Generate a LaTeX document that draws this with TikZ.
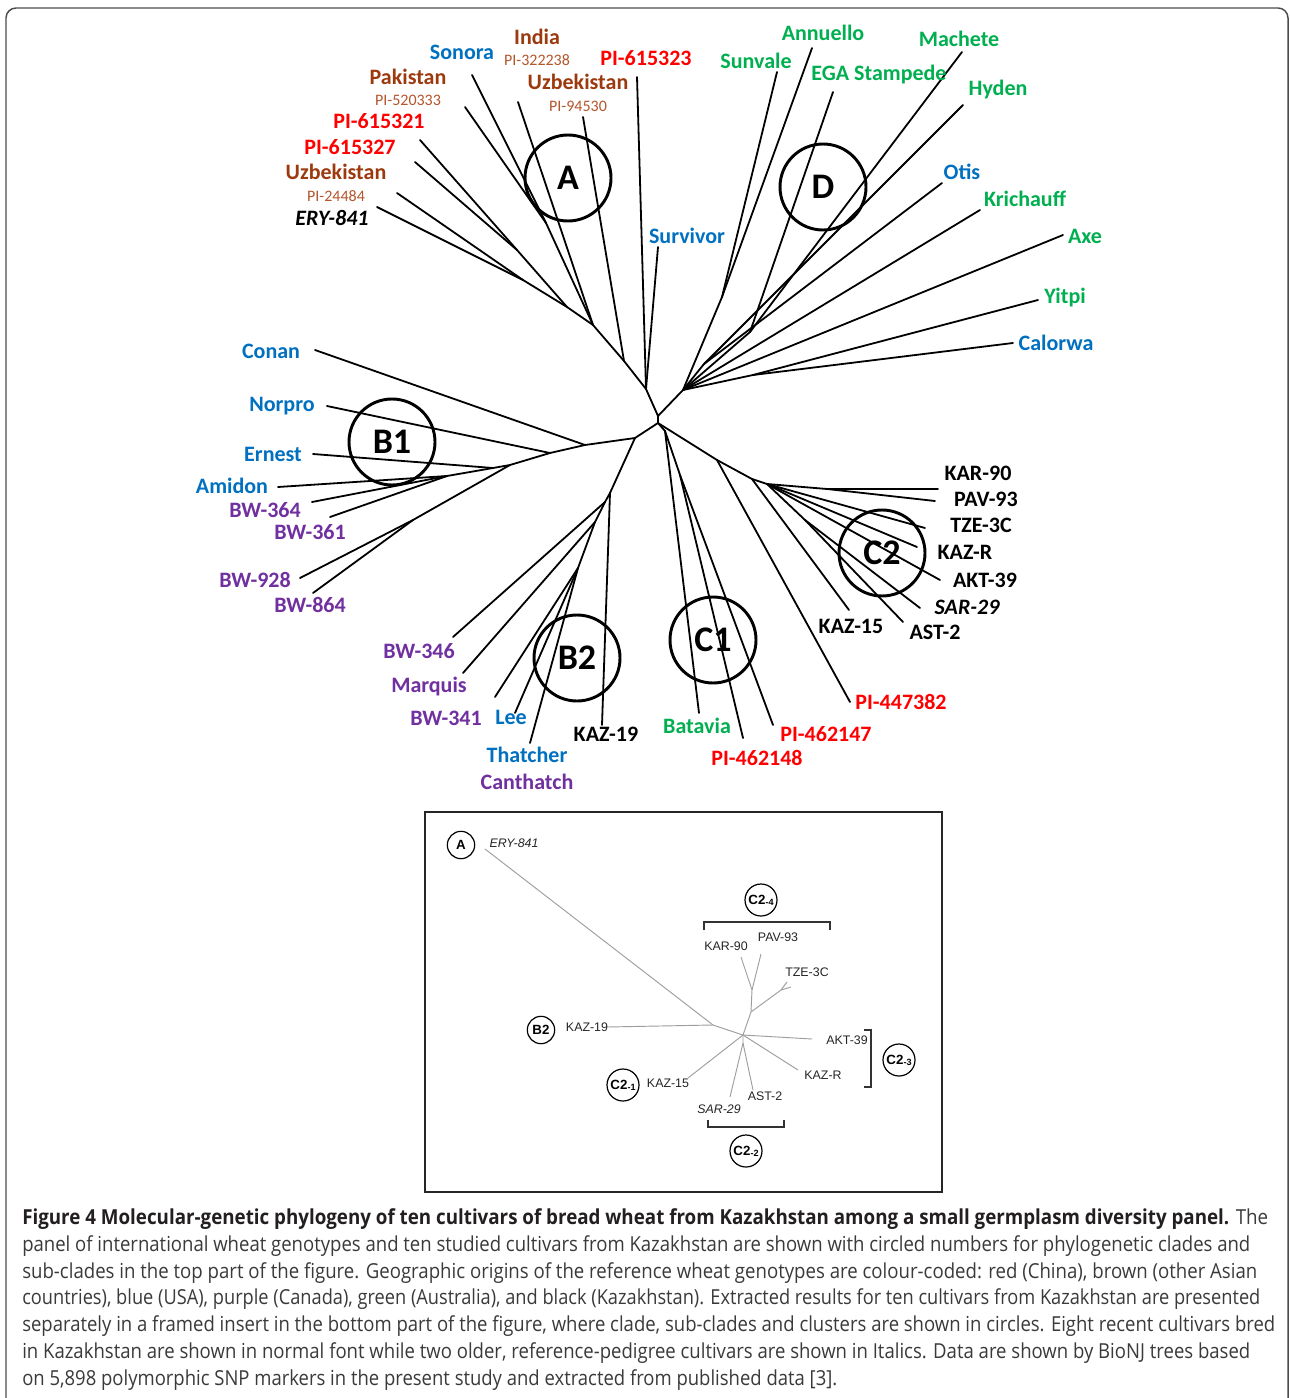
\documentclass[tikz,border=0pt]{standalone}
\usepackage{fontspec}
\usepackage{graphicx}
\setmainfont{Carlito}
\newfontfamily\capfont{Open Sans}
\newfontfamily\insfont{Liberation Sans}
\definecolor{cblue}{HTML}{0070C0}
\definecolor{cred}{HTML}{FF0000}
\definecolor{cbrown}{HTML}{9C3A0E}
\definecolor{cbrownl}{HTML}{B4562B}
\definecolor{cgreen}{HTML}{00B050}
\definecolor{cpurple}{HTML}{7030A0}
\definecolor{capbold}{HTML}{231F20}
\definecolor{capreg}{HTML}{3A3A3A}
\begin{document}
\begin{tikzpicture}[x=0.75pt,y=-0.75pt,
  lbl/.style={font=\bfseries\fontsize{16.5}{18}\selectfont, inner sep=0pt},
  sublbl/.style={font=\fontsize{12}{13}\selectfont, inner sep=0pt, text=cbrownl},
  br/.style={line width=1.35pt, line cap=round},
  clade/.style={circle, draw, line width=2.2pt, minimum size=64.5pt, inner sep=0pt, font=\bfseries\fontsize{27}{30}\selectfont},
  ins/.style={font=\insfont\fontsize{9.3}{10}\selectfont, inner sep=0pt, text=black!85},
  insbr/.style={draw=black!38, line width=0.7pt},
  icirc/.style={circle, draw, line width=0.9pt, minimum size=20.5pt, inner sep=0pt, font=\insfont\bfseries\fontsize{10}{11}\selectfont},
  icircs/.style={icirc, minimum size=24pt},
  bracket/.style={draw=black!80, line width=0.9pt},
  capline/.style={anchor=west, inner sep=0pt, font=\capfont\fontsize{15.5}{17}\selectfont, text=capreg}
]
\useasboundingbox (0,0) rectangle (1289,1398);
\fill[white] (0,0) rectangle (1289,1398);
% outer frame
\draw[line width=1.1pt, black!70, rounded corners=7.5pt] (6,1402) -- (6,8) -- (1288,8) -- (1288,1402);

% ---------------- main tree: internal points ----------------
\coordinate (r1) at (658,416);
\coordinate (r2) at (658,423);
% clade A
\coordinate (a1) at (646,389);
\coordinate (a2) at (624,361);
\coordinate (a3) at (593,325);
\coordinate (a4) at (546,223);
\coordinate (a5) at (567,307);
\coordinate (a6) at (517,250);
\coordinate (a7) at (523,280);
% clade D
\coordinate (d0) at (683,390);
\coordinate (d1) at (722,297);
\coordinate (d2) at (750,332);
\coordinate (d3) at (704,364);
\coordinate (d5) at (753,375);
% clade B
\coordinate (b0) at (635,438);
\coordinate (b1) at (585,445);
\coordinate (b2) at (550,453);
\coordinate (b3) at (510,465);
\coordinate (b4) at (493,468);
\coordinate (b6) at (447,476);
\coordinate (b5) at (413,520);
\coordinate (bb0) at (610,493);
\coordinate (bb1) at (605,502);
\coordinate (bb2) at (595,522);
\coordinate (bb3) at (578,568);
% clade C
\coordinate (c1) at (665,431);
\coordinate (c11) at (680,475);
\coordinate (c3) at (717,460);
\coordinate (c4) at (752,479);
\coordinate (c5) at (767,484);
\coordinate (c6) at (827,489);
\coordinate (c7) at (805,520);

% leaf ends
\coordinate (eSon) at (472,75);
\coordinate (eInd) at (518,102);
\coordinate (e323) at (637,77);
\coordinate (ePak) at (465,107);
\coordinate (eUzA) at (583,117);
\coordinate (e321) at (420,140);
\coordinate (e327) at (415,162);
\coordinate (eUzB) at (397,193);
\coordinate (eERY) at (377,207);
\coordinate (eSur) at (658,247);
\coordinate (eSun) at (777,72);
\coordinate (eAnn) at (812,48);
\coordinate (eEGA) at (833,92);
\coordinate (eMac) at (962,52);
\coordinate (eHyd) at (963,105);
\coordinate (eOti) at (942,183);
\coordinate (eKri) at (980,210);
\coordinate (eAxe) at (1063,235);
\coordinate (eYit) at (1038,300);
\coordinate (eCal) at (1013,343);
\coordinate (eCon) at (315,350);
\coordinate (eNor) at (327,406);
\coordinate (eErn) at (313,454);
\coordinate (eAmi) at (278,487);
\coordinate (e364) at (312,502);
\coordinate (e361) at (330,517);
\coordinate (e928) at (300,578);
\coordinate (e864) at (313,593);
\coordinate (e346) at (453,637);
\coordinate (eMar) at (463,673);
\coordinate (e341) at (495,697);
\coordinate (eLee) at (515,713);
\coordinate (eTha) at (530,743);
\coordinate (eK19) at (602,725);
\coordinate (eBat) at (699,713);
\coordinate (e148) at (743,738);
\coordinate (e147) at (773,725);
\coordinate (e382) at (850,702);
\coordinate (eK15) at (849,610);
\coordinate (eKAR) at (938,489);
\coordinate (ePAV) at (935,501);
\coordinate (eTZE) at (925,528);
\coordinate (eKZR) at (917,547);
\coordinate (eAKT) at (940,580);
\coordinate (eSAR) at (920,608);
\coordinate (eAST) at (903,622);

% branches
\draw[br] (r1) -- (r2);
\draw[br] (r1) -- (a1) -- (a2) -- (a3) -- (a5) -- (a7) -- (eERY);
\draw[br] (a1) -- (e323);
\draw[br] (a1) -- (eSur);
\draw[br] (a2) -- (eUzA);
\draw[br] (a3) -- (eInd);
\draw[br] (a3) -- (a4) -- (eSon);
\draw[br] (a4) -- (ePak);
\draw[br] (a5) -- (a6) -- (e321);
\draw[br] (a6) -- (e327);
\draw[br] (a7) -- (eUzB);
\draw[br] (r1) -- (d0) -- (d1) -- (eSun);
\draw[br] (d1) -- (eAnn);
\draw[br] (d0) -- (d2) -- (eEGA);
\draw[br] (d2) -- (eMac);
\draw[br] (d0) -- (d3) -- (eHyd);
\draw[br] (d3) -- (eOti);
\draw[br] (d0) -- (eKri);
\draw[br] (d0) -- (eAxe);
\draw[br] (d0) -- (d5) -- (eYit);
\draw[br] (d5) -- (eCal);
\draw[br] (r2) -- (b0) -- (b1) -- (eCon);
\draw[br] (b1) -- (b2) -- (eNor);
\draw[br] (b2) -- (b3) -- (b4) -- (eErn);
\draw[br] (b4) -- (b6) -- (eAmi);
\draw[br] (b6) -- (e364);
\draw[br] (b6) -- (e361);
\draw[br] (b3) -- (b5) -- (e928);
\draw[br] (b5) -- (e864);
\draw[br] (b0) -- (bb0) -- (eK19);
\draw[br] (bb0) -- (bb1) -- (e346);
\draw[br] (bb1) -- (bb2) -- (eMar);
\draw[br] (bb2) -- (bb3) -- (e341);
\draw[br] (bb3) -- (eLee);
\draw[br] (bb3) -- (eTha);
\draw[br] (r2) -- (c1) -- (eBat);
\draw[br] (c1) -- (c11) -- (e148);
\draw[br] (c11) -- (e147);
\draw[br] (r2) -- (c3) -- (e382);
\draw[br] (c3) -- (c4) -- (eK15);
\draw[br] (c4) -- (c5) -- (c6) -- (eKAR);
\draw[br] (c6) -- (ePAV);
\draw[br] (c5) -- (eTZE);
\draw[br] (c5) -- (eKZR);
\draw[br] (c5) -- (eAKT);
\draw[br] (c5) -- (c7) -- (eSAR);
\draw[br] (c7) -- (eAST);

% clade circles
\node[clade] (cA) at (568,178) {A};
\node[clade] (cD) at (823,187) {D};
\node[clade] (cB1) at (392,442) {B1};
\node[clade] (cB2) at (577,658) {B2};
\node[clade] (cC1) at (713,640) {C1};
\node[clade] (cC2) at (882,553) {C2};

% labels clade A
\node[lbl, text=cblue] (lSon) at (462,52) {Sonora};
\node[lbl, text=cbrown] (lInd) at (537,37) {India};
\node[sublbl] (lInd2) at (537,60) {PI-322238};
\node[lbl, text=cred] (l323) at (646,58) {PI-615323};
\node[lbl, text=cbrown] (lPak) at (408,77) {Pakistan};
\node[sublbl] (lPak2) at (408,100) {PI-520333};
\node[lbl, text=cbrown] (lUzA) at (578,82) {Uzbekistan};
\node[sublbl] (lUzA2) at (578,106) {PI-94530};
\node[lbl, text=cred] (l321) at (379,121) {PI-615321};
\node[lbl, text=cred] (l327) at (350,147) {PI-615327};
\node[lbl, text=cbrown] (lUzB) at (336,172) {Uzbekistan};
\node[sublbl] (lUzB2) at (336,196) {PI-24484};
\node[lbl, font=\bfseries\itshape\fontsize{16.5}{18}\selectfont] (lERY) at (332,218) {ERY-841};
\node[lbl, text=cblue] (lSur) at (687,236) {Survivor};
% labels clade D
\node[lbl, text=cgreen] (lAnn) at (823,33) {Annuello};
\node[lbl, text=cgreen] (lSun) at (756,61) {Sunvale};
\node[lbl, text=cgreen] (lMac) at (959,39) {Machete};
\node[lbl, text=cgreen] (lEGA) at (879,75) {EGA Stampede};
\node[lbl, text=cgreen] (lHyd) at (998,90) {Hyden};
\node[lbl, text=cblue] (lOti) at (962,172) {Otis};
\node[lbl, text=cgreen] (lKri) at (1025,199) {Krichauff};
\node[lbl, text=cgreen] (lAxe) at (1085,236) {Axe};
\node[lbl, text=cgreen] (lYit) at (1065,298) {Yitpi};
\node[lbl, text=cblue] (lCal) at (1056,343) {Calorwa};
% labels clade B
\node[lbl, text=cblue] (lCon) at (271,351) {Conan};
\node[lbl, text=cblue] (lNor) at (282,406) {Norpro};
\node[lbl, text=cblue] (lErn) at (273,454) {Ernest};
\node[lbl, text=cblue] (lAmi) at (232,486) {Amidon};
\node[lbl, text=cpurple] (l364) at (265,510) {BW-364};
\node[lbl, text=cpurple] (l361) at (310,532) {BW-361};
\node[lbl, text=cpurple] (l928) at (255,580) {BW-928};
\node[lbl, text=cpurple] (l864) at (310,605) {BW-864};
\node[lbl, text=cpurple] (l346) at (419,651) {BW-346};
\node[lbl, text=cpurple] (lMar) at (429,687) {Marquis};
\node[lbl, text=cpurple] (l341) at (446,718) {BW-341};
\node[lbl, text=cblue] (lLee) at (511,717) {Lee};
\node[lbl] (lK19) at (606,734) {KAZ-19};
\node[lbl, text=cblue] (lTha) at (527,755) {Thatcher};
\node[lbl, text=cpurple] (lCan) at (527,782) {Canthatch};
% labels clade C
\node[lbl, text=cgreen] (lBat) at (697,726) {Batavia};
\node[lbl, text=cred] (l148) at (757,758) {PI-462148};
\node[lbl, text=cred] (l147) at (826,734) {PI-462147};
\node[lbl, text=cred] (l382) at (901,702) {PI-447382};
\node[lbl] (lK15) at (851,626) {KAZ-15};
\node[lbl] (lAST) at (935,632) {AST-2};
\node[lbl, font=\bfseries\itshape\fontsize{16.5}{18}\selectfont] (lSAR) at (967,607) {SAR-29};
\node[lbl] (lAKT) at (985,580) {AKT-39};
\node[lbl] (lKZR) at (965,552) {KAZ-R};
\node[lbl] (lTZE) at (981,525) {TZE-3C};
\node[lbl] (lPAV) at (986,499) {PAV-93};
\node[lbl] (lKAR) at (978,473) {KAR-90};

% ---------------- insert ----------------
\draw[line width=1.1pt, black!85] (425,812) rectangle (942,1192);
\coordinate (iERY) at (485,849);
\coordinate (ij1) at (713,1025);
\coordinate (iK19) at (607,1027);
\coordinate (ic) at (743,1035);
\coordinate (ij2) at (751,1012);
\coordinate (ij3) at (752,990);
\coordinate (iKAR) at (741,957);
\coordinate (iPAV) at (761,954);
\coordinate (ij4) at (781,990);
\coordinate (iTZ1) at (787,982);
\coordinate (iTZ2) at (791,987);
\coordinate (iAKT) at (812,1039);
\coordinate (iKZR) at (798,1070);
\coordinate (iK15) at (688,1078);
\coordinate (ij5) at (743,1043);
\coordinate (iSAR) at (730,1097);
\coordinate (iAST) at (753,1090);
\draw[insbr] (iERY) -- (ij1) -- (ic);
\draw[insbr] (iK19) -- (ij1);
\draw[insbr] (ic) -- (ij2) -- (ij3) -- (iKAR);
\draw[insbr] (ij3) -- (iPAV);
\draw[insbr] (ij2) -- (ij4) -- (iTZ1);
\draw[insbr] (ij4) -- (iTZ2);
\draw[insbr] (ic) -- (iAKT);
\draw[insbr] (ic) -- (iKZR);
\draw[insbr] (ic) -- (iK15);
\draw[insbr] (ic) -- (ij5) -- (iSAR);
\draw[insbr] (ij5) -- (iAST);

\node[ins, font=\insfont\itshape\fontsize{9.3}{10}\selectfont] (tERY) at (514,843) {ERY-841};
\node[ins] (tK19) at (587,1027) {KAZ-19};
\node[ins] (tKAR) at (726,946) {KAR-90};
\node[ins] (tPAV) at (778,937) {PAV-93};
\node[ins] (tTZE) at (807,972) {TZE-3C};
\node[ins] (tAKT) at (847,1040) {AKT-39};
\node[ins] (tKZR) at (823,1075) {KAZ-R};
\node[ins] (tAST) at (765,1096) {AST-2};
\node[ins, font=\insfont\itshape\fontsize{9.3}{10}\selectfont] (tSAR) at (719,1109) {SAR-29};
\node[ins] (tK15) at (668,1083) {KAZ-15};

\node[icirc] (iA) at (461,845) {A};
\node[icirc] (iB2) at (541,1030) {B2};
\node[icircs] (iC21) at (623,1085) {C2\raisebox{-0.6pt}{\fontsize{6.8}{7}\selectfont -1}};
\node[icircs] (iC24) at (761,900) {C2\raisebox{-0.6pt}{\fontsize{6.8}{7}\selectfont -4}};
\node[icircs] (iC23) at (899,1060) {C2\raisebox{-0.6pt}{\fontsize{6.8}{7}\selectfont -3}};
\node[icircs] (iC22) at (746,1151) {C2\raisebox{-0.6pt}{\fontsize{6.8}{7}\selectfont -2}};

\draw[bracket] (704,930) -- (704,922) -- (830,922) -- (830,930);
\draw[bracket] (864,1030) -- (871,1030) -- (871,1087) -- (864,1087);
\draw[bracket] (708,1120) -- (708,1127) -- (784,1127) -- (784,1120);

% ---------------- caption ----------------
\node[capline] (cap1) at (22,1219) {\resizebox{934.5pt}{\height}{\textbf{\color{capbold}Figure 4 Molecular-genetic phylogeny of ten cultivars of bread wheat from Kazakhstan among a small germplasm diversity panel.} The}};
\node[capline] (cap2) at (22,1246) {\resizebox{921pt}{\height}{panel of international wheat genotypes and ten studied cultivars from Kazakhstan are shown with circled numbers for phylogenetic clades and}};
\node[capline] (cap3) at (22,1273) {\resizebox{926.25pt}{\height}{sub-clades in the top part of the figure. Geographic origins of the reference wheat genotypes are colour-coded: red (China), brown (other Asian}};
\node[capline] (cap4) at (22,1299) {\resizebox{928.5pt}{\height}{countries), blue (USA), purple (Canada), green (Australia), and black (Kazakhstan). Extracted results for ten cultivars from Kazakhstan are presented}};
\node[capline] (cap5) at (22,1326) {\resizebox{939.75pt}{\height}{separately in a framed insert in the bottom part of the figure, where clade, sub-clades and clusters are shown in circles. Eight recent cultivars bred}};
\node[capline] (cap6) at (22,1353) {\resizebox{921pt}{\height}{in Kazakhstan are shown in normal font while two older, reference-pedigree cultivars are shown in Italics. Data are shown by BioNJ trees based}};
\node[capline] (cap7) at (22,1380) {\resizebox{611.25pt}{\height}{on 5,898 polymorphic SNP markers in the present study and extracted from published data [3].}};
\end{tikzpicture}
\end{document}
